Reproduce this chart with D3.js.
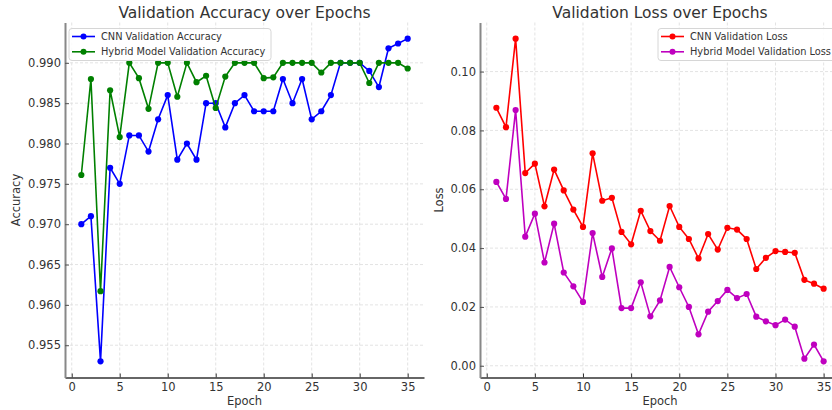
<!DOCTYPE html>
<html>
<head>
<meta charset="utf-8">
<script src="https://cdn.jsdelivr.net/npm/d3@7"></script>
<style>
  body { margin: 0; background: #fff; }
  text { font-family: "DejaVu Sans", sans-serif; fill: #333; }
</style>
</head>
<body>
<div id="chart"></div>
<script>
// Epochs shared by both panels
var epochs = [1, 2, 3, 4, 5, 6, 7, 8, 9, 10, 11, 12, 13, 14, 15, 16, 17, 18,
    19, 20, 21, 22, 23, 24, 25, 26, 27, 28, 29, 30, 31, 32, 33, 34, 35];

// Validation accuracy
var cnnAcc = [0.970, 0.971, 0.953, 0.977, 0.975, 0.981, 0.981, 0.979, 0.983, 0.986,
    0.978, 0.980, 0.978, 0.985, 0.985, 0.982, 0.985, 0.986, 0.984, 0.984,
    0.984, 0.988, 0.985, 0.988, 0.983, 0.984, 0.986, 0.990, 0.990, 0.990,
    0.989, 0.987, 0.9918, 0.9924, 0.993];
var hybridAcc = [0.9761, 0.988, 0.9617, 0.9866, 0.9808, 0.990, 0.9881, 0.9843, 0.990, 0.990,
    0.9858, 0.990, 0.9876, 0.9884, 0.9844, 0.9883, 0.990, 0.990, 0.990, 0.9881,
    0.9882, 0.990, 0.990, 0.990, 0.990, 0.9888, 0.990, 0.990, 0.990, 0.990,
    0.9875, 0.990, 0.990, 0.990, 0.9893];

// Validation loss
var cnnLoss = [0.0877, 0.0811, 0.1112, 0.0655, 0.0687, 0.0542, 0.0667, 0.0596, 0.0531, 0.0472,
    0.0722, 0.0561, 0.0571, 0.0455, 0.0413, 0.0527, 0.0458, 0.0425, 0.0543, 0.0472,
    0.0431, 0.0365, 0.0448, 0.0395, 0.0469, 0.0463, 0.0431, 0.0329, 0.0367, 0.0390,
    0.0387, 0.0384, 0.0292, 0.0279, 0.0262];
var hybridLoss = [0.0625, 0.0567, 0.0869, 0.0439, 0.0517, 0.0351, 0.0483, 0.0317, 0.0270, 0.0217,
    0.0451, 0.0302, 0.0399, 0.0196, 0.0196, 0.0284, 0.0168, 0.0222, 0.0336, 0.0267,
    0.0200, 0.0107, 0.0184, 0.0220, 0.0258, 0.0230, 0.0244, 0.0167, 0.0151, 0.0138,
    0.0157, 0.0133, 0.0024, 0.0072, 0.0015];

// Tick labels
var xTicks = [0, 5, 10, 15, 20, 25, 30, 35];
var accTicks = [0.955, 0.960, 0.965, 0.970, 0.975, 0.980, 0.985, 0.990];
var lossTicks = [0.00, 0.02, 0.04, 0.06, 0.08, 0.10];

var width = 832, height = 410;

var svg = d3.select("#chart").append("svg")
    .attr("width", width)
    .attr("height", height);

// matplotlib-style 5% padding around the data
function padded(values) {
    var ext = d3.extent(values);
    var pad = (ext[1] - ext[0]) * 0.05;
    return [ext[0] - pad, ext[1] + pad];
}

function drawPanel(cfg) {
    var x = d3.scaleLinear()
        .domain(padded(epochs))
        .range([cfg.left, cfg.right]);

    var y = d3.scaleLinear()
        .domain(padded(cfg.series[0].values.concat(cfg.series[1].values)))
        .range([cfg.bottom, cfg.top]);

    var clipId = "clip-" + cfg.id;
    svg.append("clipPath").attr("id", clipId)
        .append("rect")
        .attr("x", cfg.left).attr("y", cfg.top - 6)
        .attr("width", cfg.right - cfg.left).attr("height", cfg.bottom - cfg.top + 6);

    var g = svg.append("g");

    // Grid lines
    g.append("g").selectAll("line")
        .data(xTicks)
        .enter().append("line")
        .attr("x1", d => x(d)).attr("x2", d => x(d))
        .attr("y1", cfg.top).attr("y2", cfg.bottom)
        .attr("stroke", "#dcdcdc")
        .attr("stroke-width", 0.8)
        .attr("stroke-dasharray", "3,2");

    g.append("g").selectAll("line")
        .data(cfg.yTicks)
        .enter().append("line")
        .attr("x1", cfg.left).attr("x2", cfg.right)
        .attr("y1", d => y(d)).attr("y2", d => y(d))
        .attr("stroke", "#dcdcdc")
        .attr("stroke-width", 0.8)
        .attr("stroke-dasharray", "3,2");

    // Axes with inward ticks
    var xAxis = d3.axisBottom(x)
        .tickValues(xTicks)
        .tickFormat(d3.format("d"))
        .tickSizeInner(-4)
        .tickSizeOuter(0)
        .tickPadding(5);

    var yAxis = d3.axisLeft(y)
        .tickValues(cfg.yTicks)
        .tickFormat(d3.format(cfg.yFormat))
        .tickSizeInner(-4)
        .tickSizeOuter(0)
        .tickPadding(4);

    var gx = g.append("g")
        .attr("transform", "translate(0," + cfg.bottom + ")")
        .call(xAxis);
    gx.select(".domain").attr("stroke", "#333").attr("stroke-width", 1.3);
    gx.selectAll(".tick line").attr("stroke", "#333");
    gx.selectAll(".tick text").style("font-size", "11.5px").attr("fill", "#333");

    var gy = g.append("g")
        .attr("transform", "translate(" + cfg.left + ",0)")
        .call(yAxis);
    gy.select(".domain").attr("stroke", "#888").attr("stroke-width", 2);
    gy.selectAll(".tick line").attr("stroke", "#555");
    gy.selectAll(".tick text").style("font-size", "11.5px").attr("fill", "#333");

    // Series lines and markers
    var line = d3.line()
        .x((d, i) => x(epochs[i]))
        .y(d => y(d));

    var plot = g.append("g").attr("clip-path", "url(#" + clipId + ")");

    cfg.series.forEach(function (s) {
        plot.append("path")
            .datum(s.values)
            .attr("fill", "none")
            .attr("stroke", s.color)
            .attr("stroke-width", 1.6)
            .attr("d", line);

        plot.append("g").selectAll("circle")
            .data(s.values)
            .enter().append("circle")
            .attr("cx", (d, i) => x(epochs[i]))
            .attr("cy", d => y(d))
            .attr("r", 3.1)
            .attr("fill", s.color);
    });

    // Title and axis labels
    var mid = (cfg.left + cfg.right) / 2;
    svg.append("text")
        .attr("x", mid).attr("y", 17.5)
        .attr("text-anchor", "middle")
        .style("font-size", "15.5px")
        .text(cfg.title);

    svg.append("text")
        .attr("x", mid).attr("y", 405)
        .attr("text-anchor", "middle")
        .style("font-size", "11.5px")
        .text("Epoch");

    svg.append("text")
        .attr("transform", "translate(" + cfg.yLabelX + "," + ((cfg.top + cfg.bottom) / 2) + ") rotate(-90)")
        .attr("text-anchor", "middle")
        .style("font-size", "11.5px")
        .text(cfg.yLabel);

    // Legend
    var legend = svg.append("g")
        .attr("transform", "translate(" + cfg.legendX + "," + (cfg.top + 6) + ")");

    legend.append("rect")
        .attr("x", 0).attr("y", 0)
        .attr("width", cfg.legendW).attr("height", 32)
        .attr("rx", 3)
        .attr("fill", "white")
        .attr("fill-opacity", 0.85)
        .attr("stroke", "#d6d6d6");

    var keys = legend.selectAll(".key")
        .data(cfg.series)
        .enter().append("g")
        .attr("class", "key")
        .attr("transform", (d, i) => "translate(0," + (8 + i * 15.3) + ")");

    keys.append("line")
        .attr("x1", 3).attr("x2", 26)
        .attr("stroke", d => d.color)
        .attr("stroke-width", 1.6);

    keys.append("circle")
        .attr("cx", 14.5).attr("r", 3)
        .attr("fill", d => d.color);

    keys.append("text")
        .attr("x", 32).attr("dy", "0.35em")
        .style("font-size", "9.8px")
        .text(d => d.label);
}

drawPanel({
    id: "acc",
    left: 65, right: 424, top: 22.5, bottom: 377.5,
    title: "Validation Accuracy over Epochs",
    yLabel: "Accuracy", yLabelX: 20,
    yTicks: accTicks, yFormat: ".3f",
    legendX: 69, legendW: 202,
    series: [
        { label: "CNN Validation Accuracy", color: "#0000ff", values: cnnAcc },
        { label: "Hybrid Model Validation Accuracy", color: "#008000", values: hybridAcc }
    ]
});

drawPanel({
    id: "loss",
    left: 480, right: 840, top: 22.5, bottom: 377.5,
    title: "Validation Loss over Epochs",
    yLabel: "Loss", yLabelX: 443,
    yTicks: lossTicks, yFormat: ".2f",
    legendX: 658, legendW: 178,
    series: [
        { label: "CNN Validation Loss", color: "#ff0000", values: cnnLoss },
        { label: "Hybrid Model Validation Loss", color: "#bf00bf", values: hybridLoss }
    ]
});
</script>
</body>
</html>
